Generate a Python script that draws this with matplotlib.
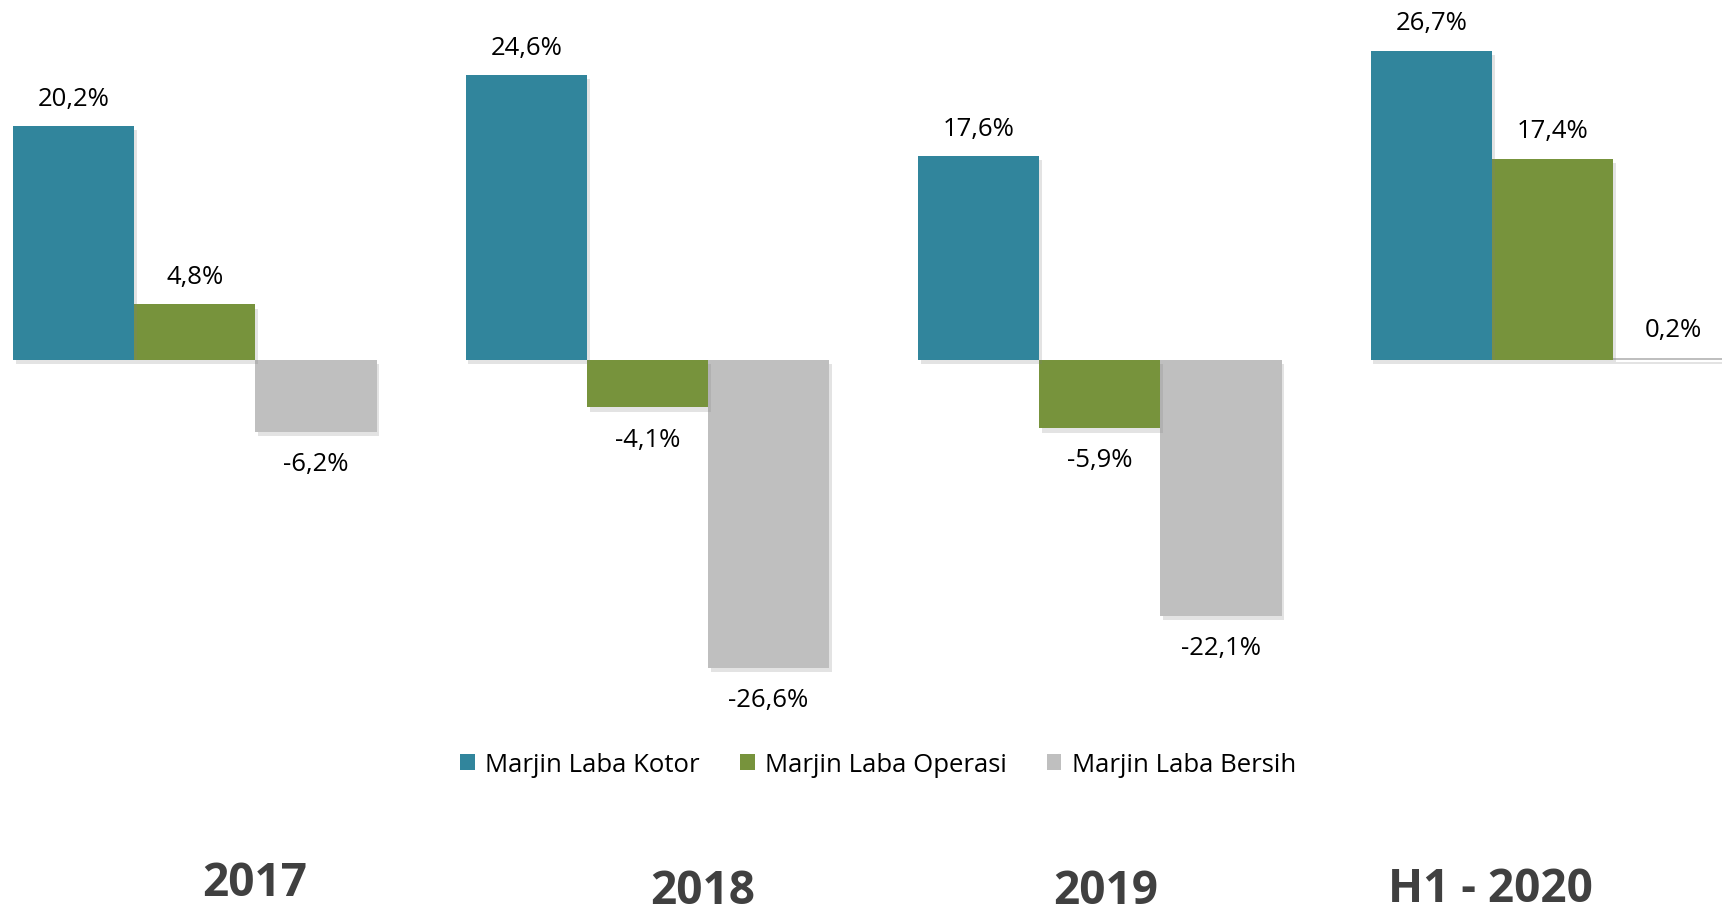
import numpy as np
import matplotlib
matplotlib.use("Agg")
import matplotlib.pyplot as plt
import matplotlib.patheffects as pe

plt.rcParams['font.family'] = ['Open Sans', 'DejaVu Sans']

periods = ["2017", "2018", "2019", "H1 - 2020"]
series_names = ["Marjin Laba Kotor", "Marjin Laba Operasi", "Marjin Laba Bersih"]
kotor = [20.2, 24.6, 17.6, 26.7]
operasi = [4.8, -4.1, -5.9, 17.4]
bersih = [-6.2, -26.6, -22.1, 0.2]
colors = ["#31859C", "#77933C", "#BFBFBF"]

fig = plt.figure(figsize=(17.22, 9.14), dpi=100)
ax = fig.add_axes([0, 0, 1, 1])
ax.set_xlim(-0.4307, 3.3748)
ax.set_ylim(-47.84, 31.09)
ax.axis('off')

x = np.arange(len(periods))
w = 0.2678
shadow = [pe.SimplePatchShadow(offset=(2, -3), shadow_rgbFace='#808080', alpha=0.22), pe.Normal()]
handles = []
for i, (vals, col, name) in enumerate(zip([kotor, operasi, bersih], colors, series_names)):
    bars = ax.bar(x + (i - 1) * w, vals, width=w, color=col, label=name, zorder=2 + (3 - i))
    for b in bars:
        b.set_path_effects(shadow)
    handles.append(bars)
    for xi, v in zip(x + (i - 1) * w, vals):
        off = 19.5 if v >= 0 else -23.5
        ax.annotate(f"{v:.1f}%".replace('.', ','), (xi, v), xytext=(0, off),
                    textcoords='offset points', ha='center', va='center',
                    fontsize=18.5, color='black', zorder=10)

leg = fig.legend(handles=handles, labels=series_names, loc='center',
                 bbox_to_anchor=(878 / 1722, 1 - 765 / 914), ncol=3, frameon=False,
                 fontsize=18.5, handlelength=0.58, handleheight=0.58,
                 handletextpad=0.4, columnspacing=1.55)
for h in leg.legend_handles:
    h.set_path_effects([])

year_pos = [(255, 884), (703, 891), (1106, 891), (1490, 890)]
for lab, (px, py) in zip(periods, year_pos):
    fig.text(px / 1722, 1 - py / 914, lab, ha='center', va='center',
             fontsize=33, fontweight='bold', color='#404040')

fig.savefig("out.png", dpi=100)
